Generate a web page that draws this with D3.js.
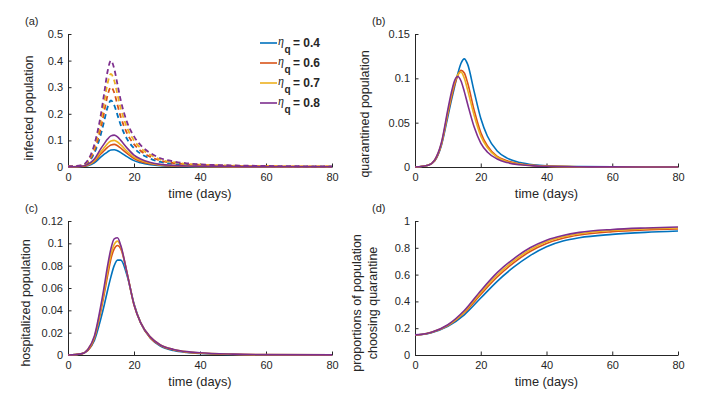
<!DOCTYPE html>
<html>
<head>
<meta charset="utf-8">
<script src="https://cdn.jsdelivr.net/npm/d3@7"></script>
<style>
  body { margin: 0; background: #fff; }
  svg { display: block; font-family: "Liberation Sans", Arial, Helvetica, sans-serif; }
</style>
</head>
<body>
<div id="chart"></div>
<script>
// eta_q values and MATLAB default colours
const etaValues = ["0.4", "0.6", "0.7", "0.8"];
const lineColors = ["#0072BD", "#D95319", "#EDB120", "#7E2F8E"];

// time grids (days)
const days = [0, 4, 6, 8, 10, 11, 12, 13, 14, 15, 16, 18, 20, 22, 25, 28, 32, 36, 40, 50, 60, 80];
const daysD = [0, 2, 5, 10, 15, 20, 25, 30, 35, 40, 45, 50, 60, 70, 80];
const xTicks = [0, 20, 40, 60, 80];

// (a) infected population, solid lines
const infectedSolid = [
  [0.001, 0.002, 0.005, 0.016, 0.038, 0.048, 0.057, 0.064, 0.065, 0.061, 0.054, 0.038, 0.024, 0.016, 0.009, 0.005, 0.003, 0.002, 0.001, 0.001, 0.001, 0.001],
  [0.001, 0.002, 0.007, 0.021, 0.05, 0.062, 0.074, 0.083, 0.085, 0.08, 0.071, 0.05, 0.032, 0.021, 0.012, 0.007, 0.004, 0.003, 0.002, 0.001, 0.001, 0.001],
  [0.001, 0.003, 0.008, 0.025, 0.058, 0.073, 0.088, 0.098, 0.1, 0.094, 0.083, 0.058, 0.037, 0.025, 0.014, 0.008, 0.005, 0.003, 0.002, 0.001, 0.001, 0.001],
  [0.001, 0.003, 0.01, 0.03, 0.07, 0.088, 0.105, 0.117, 0.12, 0.113, 0.1, 0.07, 0.045, 0.03, 0.017, 0.01, 0.006, 0.004, 0.003, 0.002, 0.001, 0.001]
];
// (a) infected population, dashed lines
const infectedDashed = [
  [0.002, 0.004, 0.016, 0.053, 0.125, 0.175, 0.225, 0.25, 0.233, 0.195, 0.157, 0.103, 0.071, 0.05, 0.031, 0.019, 0.012, 0.008, 0.006, 0.004, 0.002, 0.001],
  [0.002, 0.005, 0.019, 0.063, 0.15, 0.21, 0.27, 0.3, 0.28, 0.233, 0.188, 0.124, 0.086, 0.061, 0.038, 0.024, 0.015, 0.01, 0.008, 0.004, 0.003, 0.002],
  [0.002, 0.005, 0.022, 0.074, 0.175, 0.245, 0.315, 0.35, 0.325, 0.272, 0.22, 0.145, 0.1, 0.071, 0.045, 0.028, 0.018, 0.012, 0.009, 0.005, 0.003, 0.002],
  [0.002, 0.006, 0.025, 0.085, 0.2, 0.28, 0.36, 0.4, 0.37, 0.31, 0.25, 0.165, 0.115, 0.082, 0.052, 0.033, 0.021, 0.014, 0.01, 0.006, 0.004, 0.002]
];
// (b) quarantined population
const quarantined = [
  [0, 0.002, 0.007, 0.024, 0.057, 0.074, 0.09, 0.105, 0.117, 0.122, 0.116, 0.085, 0.055, 0.035, 0.018, 0.01, 0.005, 0.0025, 0.0013, 0.0004, 0.0001, 0],
  [0, 0.002, 0.007, 0.025, 0.06, 0.077, 0.092, 0.103, 0.109, 0.106, 0.095, 0.064, 0.039, 0.024, 0.012, 0.007, 0.0033, 0.0018, 0.001, 0.0003, 0.0001, 0],
  [0, 0.002, 0.008, 0.026, 0.062, 0.08, 0.095, 0.104, 0.107, 0.1, 0.087, 0.058, 0.035, 0.022, 0.011, 0.006, 0.003, 0.0016, 0.001, 0.0003, 0.0001, 0],
  [0, 0.002, 0.008, 0.027, 0.065, 0.083, 0.097, 0.102, 0.097, 0.085, 0.071, 0.045, 0.027, 0.017, 0.009, 0.005, 0.0025, 0.0013, 0.0008, 0.0003, 0.0001, 0]
];
// (c) hospitalized population
const hospitalized = [
  [0, 0.001, 0.004, 0.013, 0.033, 0.045, 0.058, 0.07, 0.08, 0.085, 0.085, 0.07, 0.046, 0.029, 0.015, 0.008, 0.004, 0.0023, 0.0014, 0.0005, 0.0002, 0.0001],
  [0, 0.001, 0.004, 0.015, 0.04, 0.055, 0.071, 0.086, 0.095, 0.098, 0.095, 0.072, 0.045, 0.029, 0.015, 0.0085, 0.0045, 0.0026, 0.0016, 0.0006, 0.0002, 0.0001],
  [0, 0.001, 0.005, 0.016, 0.042, 0.058, 0.075, 0.09, 0.099, 0.102, 0.097, 0.072, 0.045, 0.029, 0.016, 0.009, 0.005, 0.0028, 0.0018, 0.0007, 0.0003, 0.0001],
  [0, 0.001, 0.005, 0.017, 0.045, 0.062, 0.08, 0.095, 0.104, 0.105, 0.098, 0.072, 0.045, 0.029, 0.016, 0.009, 0.005, 0.003, 0.002, 0.0008, 0.0003, 0.0001]
];
// (d) proportion choosing quarantine
const choosingQuarantine = [
  [0.15, 0.153, 0.167, 0.214, 0.3, 0.425, 0.55, 0.655, 0.742, 0.808, 0.85, 0.875, 0.9, 0.915, 0.925],
  [0.15, 0.153, 0.168, 0.219, 0.315, 0.452, 0.582, 0.688, 0.772, 0.832, 0.871, 0.895, 0.92, 0.933, 0.94],
  [0.15, 0.153, 0.169, 0.222, 0.322, 0.465, 0.597, 0.702, 0.785, 0.845, 0.882, 0.905, 0.93, 0.942, 0.948],
  [0.15, 0.154, 0.17, 0.226, 0.332, 0.48, 0.615, 0.718, 0.8, 0.857, 0.892, 0.915, 0.937, 0.948, 0.955]
];

const width = 710, height = 393;
const axisColor = "#262626";

const svg = d3.select("#chart").append("svg")
  .attr("width", width)
  .attr("height", height);

const panels = [
  { tag: "(a)", left: 68, right: 332, top: 34, bottom: 167, yMax: 0.5,
    yTicks: [0, 0.1, 0.2, 0.3, 0.4, 0.5], ylabel: ["infected population"], ylabelX: [33], ylabelY: 108,
    series: [{ t: days, ys: infectedSolid, dash: null }, { t: days, ys: infectedDashed, dash: "5,3.5" }],
    legend: true },
  { tag: "(b)", left: 415, right: 678, top: 34, bottom: 167, yMax: 0.15,
    yTicks: [0, 0.05, 0.1, 0.15], ylabel: ["quarantined population"], ylabelX: [369], ylabelY: 114,
    series: [{ t: days, ys: quarantined, dash: null }] },
  { tag: "(c)", left: 68, right: 332, top: 221, bottom: 355, yMax: 0.12,
    yTicks: [0, 0.02, 0.04, 0.06, 0.08, 0.1, 0.12], ylabel: ["hospitalized population"], ylabelX: [30], ylabelY: 303,
    series: [{ t: days, ys: hospitalized, dash: null }] },
  { tag: "(d)", left: 415, right: 678, top: 221, bottom: 355, yMax: 1,
    yTicks: [0, 0.2, 0.4, 0.6, 0.8, 1], ylabel: ["proportions of population", "choosing quarantine"], ylabelX: [361, 377], ylabelY: 303,
    series: [{ t: daysD, ys: choosingQuarantine, dash: null }] }
];

panels.forEach(p => {
  const x = d3.scaleLinear().domain([0, 80]).range([p.left, p.right]);
  const y = d3.scaleLinear().domain([0, p.yMax]).range([p.bottom, p.top]);
  const g = svg.append("g");

  const xAxis = g.append("g")
    .attr("transform", `translate(0,${p.bottom})`)
    .call(d3.axisBottom(x).tickValues(xTicks).tickSize(-3.5).tickSizeOuter(0).tickPadding(6));
  const yAxis = g.append("g")
    .attr("transform", `translate(${p.left},0)`)
    .call(d3.axisLeft(y).tickValues(p.yTicks).tickFormat(d3.format("~g")).tickSize(-3.5).tickSizeOuter(0).tickPadding(5));

  [xAxis, yAxis].forEach(a => {
    a.select(".domain").attr("stroke", axisColor).attr("stroke-width", 1);
    a.selectAll(".tick line").attr("stroke", axisColor);
    a.selectAll(".tick text").attr("fill", axisColor).style("font-size", "11px");
    a.attr("font-family", null);
  });

  g.append("text")
    .attr("x", (p.left + p.right) / 2)
    .attr("y", p.bottom + 31)
    .attr("text-anchor", "middle")
    .attr("fill", axisColor)
    .style("font-size", "12.8px")
    .text("time (days)");

  p.ylabel.forEach((lab, i) => {
    g.append("text")
      .attr("transform", `translate(${p.ylabelX[i]},${p.ylabelY}) rotate(-90)`)
      .attr("text-anchor", "middle")
      .attr("fill", axisColor)
      .style("font-size", "12.5px")
      .text(lab);
  });

  g.append("text")
    .attr("x", p.left - 43)
    .attr("y", p.top - 9)
    .attr("fill", axisColor)
    .style("font-size", "11px")
    .text(p.tag);

  // curves, each eta: solid then dashed
  const line = t => d3.line()
    .x((d, i) => x(t[i]))
    .y(d => y(d))
    .curve(d3.curveMonotoneX);

  etaValues.forEach((eta, k) => {
    p.series.forEach(s => {
      g.append("path")
        .datum(s.ys[k])
        .attr("fill", "none")
        .attr("stroke", lineColors[k])
        .attr("stroke-width", s.dash ? 1.8 : 1.6)
        .attr("stroke-dasharray", s.dash)
        .attr("d", line(s.t));
    });
  });

  if (p.legend) {
    const leg = g.append("g");
    etaValues.forEach((eta, k) => {
      const ry = 43 + k * 20;
      leg.append("line")
        .attr("x1", 260).attr("x2", 277)
        .attr("y1", ry).attr("y2", ry)
        .attr("stroke", lineColors[k])
        .attr("stroke-width", 1.6);
      leg.append("text")
        .attr("x", 278).attr("y", ry + 2)
        .attr("fill", axisColor)
        .style("font-family", "'Liberation Serif', 'Times New Roman', serif")
        .style("font-style", "italic")
        .style("font-size", "12px")
        .text("η");
      leg.append("text")
        .attr("x", 284.5).attr("y", ry + 10)
        .attr("fill", axisColor)
        .style("font-weight", "bold")
        .style("font-size", "10px")
        .text("q");
      leg.append("text")
        .attr("x", 293).attr("y", ry + 4)
        .attr("fill", axisColor)
        .style("font-weight", "bold")
        .style("font-size", "12px")
        .text(`= ${eta}`);
    });
  }
});
</script>
</body>
</html>
